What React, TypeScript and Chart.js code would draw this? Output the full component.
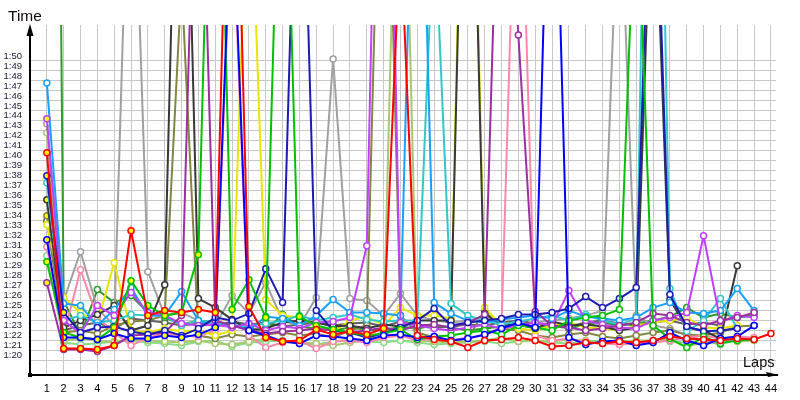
import React, { useEffect, useRef } from 'react';
import { Chart, registerables } from 'chart.js';

Chart.register(...registerables);

// Lap numbers (x axis)
const laps = [1, 2, 3, 4, 5, 6, 7, 8, 9, 10, 11, 12, 13, 14, 15, 16, 17, 18, 19, 20, 21, 22,
  23, 24, 25, 26, 27, 28, 29, 30, 31, 32, 33, 34, 35, 36, 37, 38, 39, 40, 41, 42, 43, 44];

// Y tick values in seconds (1:20 .. 1:50)
const yTickSeconds = [80, 81, 82, 83, 84, 85, 86, 87, 88, 89, 90, 91, 92, 93, 94, 95, 96, 97, 98, 99,
  100, 101, 102, 103, 104, 105, 106, 107, 108, 109, 110];

// Lap times in seconds per driver
const redTimes = [100.8, 81.2, 81.2, 81.1, 81.5, 93.0, 84.5, 85.0, 84.8, 85.1,
  84.8, 150, 85.4, 82.3, 81.9, 82.0, 83.1, 82.6, 82.9, 82.6,
  83.2, 123, 82.5, 82.1, 81.9, 81.3, 82.0, 82.1, 82.3, 82.0,
  81.4, 81.5, 81.8, 81.7, 81.9, 81.8, 82.0, 82.4, 82.2, 82.1,
  82.0, 82.2, 82.1, 82.7];
const blueTimes = [92.1, 82.3, 82.3, 82.1, 82.7, 82.2, 82.2, 82.5, 82.3, 82.6,
  83.3, 128, 83.0, 82.5, 81.9, 81.7, 82.5, 82.4, 82.2, 82.0,
  82.5, 82.6, 82.3, 82.4, 82.0, 82.2, 82.6, 83.2, 83.8, 83.3,
  145, 82.3, 81.6, 81.9, 82.0, 81.5, 81.8, 82.8, 82.0, 81.5,
  82.2, 82.4, 83.5];
const darkBlueTimes = [98.5, 84.8, 82.8, 83.3, 83.4, 82.9, 82.6, 83.0, 82.5, 83.2,
  84.3, 84.0, 84.7, 89.2, 85.8, 145, 85.0, 83.0, 82.8, 82.3,
  82.7, 83.3, 84.0, 85.2, 83.5, 83.8, 84.0, 84.2, 84.6, 84.6,
  84.8, 85.2, 86.4, 85.3, 86.2, 87.3, 139, 86.6, 83.4, 82.9,
  83.0, 83.2];
const greenTimes = [89.9, 82.8, 82.3, 82.1, 83.3, 88.0, 85.5, 84.5, 84.8, 90.6,
  155, 85.1, 88.1, 84.3, 145, 84.4, 83.5, 83.1, 82.8, 82.5,
  82.7, 83.1, 82.1, 82.4, 82.5, 82.8, 83.0, 82.6, 83.5, 83.3,
  83.0, 84.0, 84.3, 84.5, 85.1, 130, 83.5, 82.2, 81.3, 82.4,
  81.7, 82.0, 82.1];
const darkGreenTimes = [270, 86.0, 82.5, 87.1, 85.8, 86.5, 84.8, 84.3, 83.6, 84.0,
  83.8, 83.5, 83.2, 83.0, 84.6, 83.4, 83.2, 83.0, 83.3, 83.1,
  83.0, 83.4, 83.2, 83.5, 83.3, 83.0, 83.2, 83.4, 83.6, 83.3,
  83.5, 83.2, 83.6, 83.8, 83.5, 83.7, 84.0, 84.4, 85.3, 84.3,
  84.7, 84.3, 84.5];
const lightBlueTimes = [107.8, 85.7, 85.5, 83.5, 85.1, 87.3, 84.5, 84.5, 86.9, 84.0,
  83.4, 83.7, 83.0, 84.4, 84.2, 83.5, 84.5, 86.1, 84.8, 84.8,
  84.7, 84.5, 150, 85.8, 84.7, 84.0, 83.8, 84.1, 84.3, 84.5,
  84.2, 85.0, 84.4, 84.2, 84.0, 84.3, 85.3, 85.8, 84.8, 84.7,
  85.0, 87.2, 85.0];
const cyanTimes = [97.8, 84.0, 84.5, 83.8, 84.0, 84.6, 84.5, 84.5, 83.5, 84.0,
  83.8, 83.3, 83.5, 83.7, 84.0, 84.5, 84.0, 84.3, 84.6, 84.1,
  83.9, 84.0, 84.0, 125, 85.7, 84.5, 84.0, 83.6, 83.9, 84.2,
  84.5, 84.0, 84.6, 84.0, 83.6, 84.2, 180, 87.2, 82.9, 84.0,
  86.2, 83.2];
const pinkTimes = [91.4, 82.5, 89.1, 84.3, 82.8, 81.5, 82.3, 82.7, 82.5, 82.4,
  83.0, 126, 82.5, 81.3, 81.8, 82.0, 81.2, 81.9, 82.0, 81.8,
  82.3, 82.5, 82.0, 82.2, 82.0, 82.3, 82.5, 83.4, 140, 82.5,
  82.0, 82.2, 81.8, 81.7, 81.6, 81.7, 81.8, 82.0, 82.3, 82.5,
  82.2, 82.4, 82.3];
const magentaTimes = [104.2, 84.0, 82.7, 85.5, 84.5, 86.8, 84.8, 84.5, 83.7, 83.5,
  83.6, 83.3, 83.7, 83.0, 83.4, 83.2, 83.8, 83.9, 84.3, 91.5,
  170, 83.8, 83.5, 83.2, 83.0, 83.3, 83.6, 83.2, 83.5, 83.8,
  83.5, 87.0, 84.0, 83.6, 83.3, 83.2, 84.0, 84.3, 84.8, 92.5,
  83.9, 84.5, 84.3];
const purpleTimes = [87.8, 81.1, 81.1, 80.9, 81.5, 82.5, 82.6, 82.8, 84.5, 145,
  84.0, 83.5, 83.0, 82.7, 82.9, 83.0, 83.2, 83.0, 82.8, 83.0,
  83.3, 83.0, 83.5, 83.6, 83.3, 83.8, 84.6, 142, 112.6, 84.9,
  83.5, 83.3, 83.0, 83.2, 83.5, 83.8, 84.7, 84.5, 83.8, 83.5,
  84.0, 84.3, 84.8];
const yellowTimes = [93.6, 86.3, 84.8, 83.7, 89.8, 83.0, 82.8, 83.2, 82.9, 83.0,
  82.5, 83.0, 134, 86.1, 84.5, 84.3, 83.5, 82.9, 84.0, 84.4,
  83.5, 85.3, 84.5, 84.5, 84.2, 160, 85.3, 83.5, 83.2, 83.0,
  83.5, 83.8, 83.3, 83.2, 83.0, 83.5, 83.8, 84.0, 84.3, 83.3,
  83.2, 83.5];
const blackTimes = [96.1, 83.3, 84.0, 84.6, 85.5, 83.0, 83.5, 87.6, 155, 86.2,
  85.3, 84.1, 83.0, 83.2, 83.8, 84.0, 83.8, 83.4, 83.5, 83.2,
  83.6, 83.4, 84.0, 84.0, 84.0, 155, 84.7, 83.5, 83.6, 83.2,
  83.9, 83.5, 83.6, 83.4, 83.0, 83.3, 133, 86.1, 83.3, 83.0,
  82.2, 89.5];
const grayTimes = [103.7, 86.0, 90.9, 85.2, 83.5, 140, 88.9, 84.5, 84.8, 84.0,
  83.5, 86.5, 84.7, 87.8, 84.0, 83.5, 86.3, 110.2, 86.2, 86.0,
  84.5, 86.7, 84.5, 84.0, 83.8, 84.0, 84.3, 83.8, 83.5, 83.8,
  84.0, 84.2, 84.5, 85.0, 130, 84.5, 83.5, 83.2, 82.5, 82.0,
  81.6];
const oliveTimes = [94.5, 82.8, 83.0, 82.7, 83.5, 83.9, 84.0, 84.5, 118, 82.5,
  82.2, 82.6, 82.4, 82.6, 82.8, 82.5, 82.7, 82.3, 83.0, 83.5,
  150, 84.5, 82.8, 82.3, 82.0, 82.2, 85.0, 83.2, 83.0, 82.5,
  82.3, 82.6, 82.8, 82.4, 82.2, 82.5, 82.8, 83.0, 82.6, 82.5,
  82.8, 83.4, 83.5];
const lightOliveTimes = [102.8, 82.0, 82.2, 82.0, 81.8, 82.1, 82.0, 81.9, 81.8, 82.0,
  81.7, 81.6, 81.9, 82.2, 82.0, 81.8, 81.7, 81.5, 81.8, 82.0,
  83.0, 150, 82.0, 81.9, 81.8, 81.9, 82.0, 82.3, 81.9, 82.0,
  81.9, 82.1, 82.0, 81.7, 81.9, 82.0, 82.0, 82.1, 81.4, 81.8,
  82.2, 81.9, 82.0];
const darkGrayTimes = [94.0, 83.0, 83.5, 83.8, 83.2, 84.2, 84.0, 83.8, 83.5, 83.7,
  83.5, 83.9, 83.6, 83.8, 83.4, 83.6, 83.8, 83.5, 83.7, 83.8,
  83.4, 83.9, 83.6, 83.3, 83.4, 83.6, 83.5, 83.8, 84.0, 83.7,
  83.6, 83.4, 83.8, 84.0, 83.7, 83.5, 83.8, 84.0, 83.6, 83.8,
  83.5];
const lightGreenTimes = [90.5, 81.8, 81.6, 81.7, 81.9, 82.0, 81.8, 81.7, 81.5, 81.9,
  82.0, 81.4, 81.8, 81.9, 82.0, 81.7, 81.6, 81.9, 82.1, 81.9,
  81.8, 82.0, 81.8, 81.6, 81.7, 81.8, 81.9, 81.7, 81.9, 82.0,
  81.8, 81.7, 81.9, 82.0, 81.8, 81.7, 82.0, 81.9, 81.8, 81.7,
  81.9, 82.0];

// [values, colour, last lap drawn with yellow marker fill]
const series: [number[], string, number][] = [
  [redTimes, '#ff0000', 22],
  [blueTimes, '#0000ff', 12],
  [greenTimes, '#00c000', 22],
  [darkBlueTimes, '#1c1cb4', 2],
  [purpleTimes, '#9a30a0', 5],
  [magentaTimes, '#c040ff', 1],
  [lightBlueTimes, '#18a0ff', 0],
  [cyanTimes, '#30c8c8', 0],
  [blackTimes, '#383838', 1],
  [yellowTimes, '#e6e600', 0],
  [pinkTimes, '#ff88aa', 0],
  [oliveTimes, '#848444', 1],
  [grayTimes, '#a0a0a0', 0],
  [darkGreenTimes, '#2e9a2e', 0],
  [lightOliveTimes, '#a8c870', 0],
  [darkGrayTimes, '#606060', 0],
  [lightGreenTimes, '#88dc88', 0],
];

const axisPlugin = {
  id: 'axisArrows',
  afterDraw(chart: any) {
    const ctx = chart.ctx;
    const a = chart.chartArea;
    ctx.save();
    ctx.strokeStyle = '#000';
    ctx.fillStyle = '#000';
    ctx.lineWidth = 2;
    ctx.beginPath();
    ctx.moveTo(a.left, a.bottom);
    ctx.lineTo(a.left, a.top + 6);
    ctx.moveTo(a.left, a.bottom);
    ctx.lineTo(a.right + 2, a.bottom);
    ctx.stroke();
    // up arrow
    ctx.beginPath();
    ctx.moveTo(a.left, a.top - 1);
    ctx.lineTo(a.left - 3.5, a.top + 11);
    ctx.lineTo(a.left + 3.5, a.top + 11);
    ctx.closePath();
    ctx.fill();
    // right arrow
    ctx.beginPath();
    ctx.moveTo(a.right + 3, a.bottom);
    ctx.lineTo(a.right - 10, a.bottom - 3);
    ctx.lineTo(a.right - 8, a.bottom + 2);
    ctx.closePath();
    ctx.fill();
    // corner square
    ctx.fillRect(a.left - 2, a.bottom - 2, 4, 4);
    // titles
    ctx.fillStyle = '#140808';
    ctx.textBaseline = 'alphabetic';
    ctx.textAlign = 'left';
    ctx.font = '15.5px "Liberation Sans", Arial, sans-serif';
    ctx.fillText('Time', 8, 20.5);
    ctx.font = '14.5px "Liberation Sans", Arial, sans-serif';
    ctx.fillText('Laps', 743, 367);
    ctx.restore();
  },
};

export default function App() {
  const canvasRef = useRef<HTMLCanvasElement | null>(null);

  useEffect(() => {
    if (!canvasRef.current) return;
    const datasets = series.map(([values, color, yellowUntil]) => {
      const pts = values.map((v, i) => ({ x: laps[i], y: v }));
      return {
        data: pts,
        borderColor: color,
        backgroundColor: color,
        borderWidth: 2,
        pointRadius: 3,
        pointBorderWidth: 1.5,
        pointBorderColor: color,
        pointBackgroundColor: pts.map((p) => (p.x <= yellowUntil ? '#ffff00' : '#ffffff')),
        tension: 0,
        fill: false,
      };
    });

    const chart = new Chart(canvasRef.current, {
      type: 'line',
      data: { datasets },
      options: {
        animation: false,
        responsive: false,
        maintainAspectRatio: false,
        layout: { padding: { top: 25, right: 24, left: 0, bottom: 0 } },
        plugins: { legend: { display: false }, tooltip: { enabled: false } },
        scales: {
          x: {
            type: 'linear',
            min: 0,
            max: 44.3,
            afterBuildTicks: (s: any) => {
              s.ticks = laps.map((v) => ({ value: v }));
            },
            afterFit: (s: any) => {
              s.height = 25;
            },
            grid: { color: '#c8c8c8', lineWidth: 1, drawTicks: false },
            border: { display: false },
            ticks: {
              padding: 7,
              color: '#000',
              autoSkip: false,
              maxRotation: 0,
              font: { family: '"Liberation Sans", Arial, sans-serif', size: 11 },
              callback: (v: any) => String(v),
            },
          },
          y: {
            type: 'linear',
            min: 78.55,
            max: 113.6,
            afterBuildTicks: (s: any) => {
              s.ticks = yTickSeconds.map((v) => ({ value: v }));
            },
            afterFit: (s: any) => {
              s.width = 30;
            },
            grid: { color: '#c8c8c8', lineWidth: 1, drawTicks: false },
            border: { display: false },
            ticks: {
              padding: 8,
              labelOffset: -5,
              color: '#1a1a3a',
              autoSkip: false,
              font: { family: '"Liberation Sans", Arial, sans-serif', size: 9.5 },
              callback: (v: any) => {
                const s = Math.round(Number(v)) - 60;
                return '1:' + (s < 10 ? '0' + s : String(s));
              },
            },
          },
        },
      },
      plugins: [axisPlugin],
    });
    return () => chart.destroy();
  }, []);

  return (
    <div style={{ position: 'absolute', left: 0, top: 0, width: 800, height: 400, background: '#fff' }}>
      <canvas ref={canvasRef} width={800} height={400} style={{ display: 'block' }} />
    </div>
  );
}
